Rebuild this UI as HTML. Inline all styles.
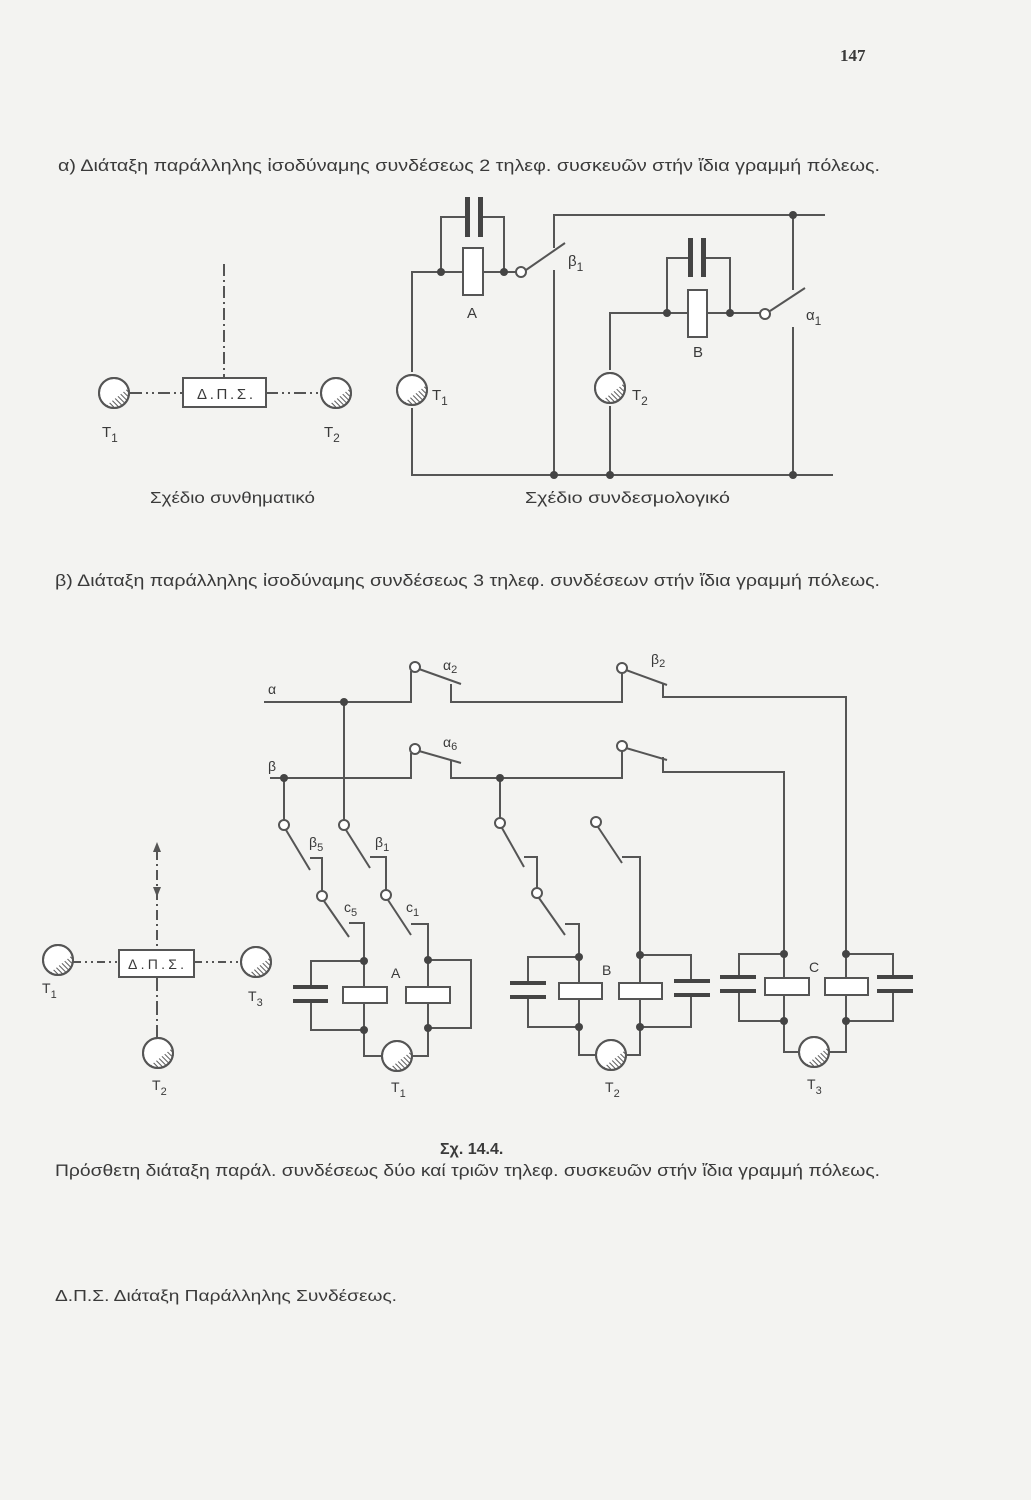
<!DOCTYPE html>
<html><head><meta charset="utf-8"><style>
html,body{margin:0;padding:0;background:#f3f3f1;}
svg{display:block;}
text{font-family:"Liberation Sans","DejaVu Sans",sans-serif;fill:#3a3a3a;}
</style></head><body>
<svg width="1031" height="1500" viewBox="0 0 1031 1500" xmlns="http://www.w3.org/2000/svg">
<defs>
<pattern id="h" width="3.5" height="3.5" patternUnits="userSpaceOnUse" patternTransform="rotate(-45)">
<line x1="0" y1="0" x2="0" y2="3.5" stroke="#333" stroke-width="1.6"/>
</pattern>
<g id="ph">
<circle r="15" fill="#fff" stroke="#555" stroke-width="2"/>
<path d="M-8,12.7 L14.2,-4.8 A15,15 0 0 1 -8,12.7 Z" fill="url(#h)"/>
<circle r="15" fill="none" stroke="#555" stroke-width="2"/>
</g>
</defs>

<text x="840" y="61" font-weight="bold" font-size="17" style="font-family:'Liberation Serif',serif">147</text>

<text x="58" y="171" font-size="17" textLength="822" lengthAdjust="spacingAndGlyphs">α) Διάταξη παράλληλης ἰσοδύναμης συνδέσεως 2 τηλεφ. συσκευῶν στήν ἴδια γραμμή πόλεως.</text>

<!-- left schematic top -->
<g stroke="#555" stroke-width="2" fill="none">
<line x1="224" y1="264" x2="224" y2="378" stroke-dasharray="12,4,2,4"/>
<line x1="130" y1="393" x2="183" y2="393" stroke-dasharray="12,4,2,4,2,4"/>
<line x1="266" y1="393" x2="320" y2="393" stroke-dasharray="12,4,2,4,2,4"/>
<rect x="183" y="378" width="83" height="29" fill="#fff"/>
</g>
<text x="197" y="399" font-size="15" textLength="56" lengthAdjust="spacing">Δ.Π.Σ.</text>
<use href="#ph" x="114" y="393"/>
<use href="#ph" x="336" y="393"/>
<text x="102" y="437" font-size="15">T<tspan font-size="12" dy="5">1</tspan></text>
<text x="324" y="437" font-size="15">T<tspan font-size="12" dy="5">2</tspan></text>
<text x="150" y="503" font-size="16" textLength="165" lengthAdjust="spacingAndGlyphs">Σχέδιο συνθηματικό</text>

<!-- top circuit -->
<g stroke="#555" stroke-width="2" fill="none">
<path d="M412,372 V272 H463 M483,272 H516 M441,272 V217 H465 M482,217 H504 V272"/>
<path d="M526,270 L565,243"/>
<path d="M554,248 V215 H825 M554,270 V475 M412,408 V475 H833"/>
<path d="M793,215 V290 M793,327 V475 M770,311 L805,288"/>
<path d="M610,370 V313 H688 M707,313 H760 M667,313 V258 H688 M705,258 H730 V313 M610,406 V475"/>
<rect x="463" y="248" width="20" height="47" fill="#fff"/>
<rect x="688" y="290" width="19" height="47" fill="#fff"/>
<circle cx="521" cy="272" r="5" fill="#fff"/>
<circle cx="765" cy="314" r="5" fill="#fff"/>
</g>
<g fill="#444">
<rect x="465" y="197" width="5" height="40"/><rect x="478" y="197" width="5" height="40"/>
<rect x="688" y="238" width="5" height="39"/><rect x="701" y="238" width="5" height="39"/>
<circle cx="441" cy="272" r="4"/><circle cx="504" cy="272" r="4"/>
<circle cx="667" cy="313" r="4"/><circle cx="730" cy="313" r="4"/>
<circle cx="554" cy="475" r="4"/><circle cx="610" cy="475" r="4"/>
<circle cx="793" cy="475" r="4"/><circle cx="793" cy="215" r="4"/>
</g>
<use href="#ph" x="412" y="390"/>
<use href="#ph" x="610" y="388"/>
<text x="467" y="318" font-size="15">A</text>
<text x="693" y="357" font-size="15">B</text>
<text x="432" y="400" font-size="15">T<tspan font-size="12" dy="5">1</tspan></text>
<text x="632" y="400" font-size="15">T<tspan font-size="12" dy="5">2</tspan></text>
<text x="568" y="266" font-size="15">β<tspan font-size="12" dy="5">1</tspan></text>
<text x="806" y="320" font-size="15">α<tspan font-size="12" dy="5">1</tspan></text>
<text x="525" y="503" font-size="16" textLength="205" lengthAdjust="spacingAndGlyphs">Σχέδιο συνδεσμολογικό</text>

<text x="55" y="586" font-size="17" textLength="825" lengthAdjust="spacingAndGlyphs">β) Διάταξη παράλληλης ἰσοδύναμης συνδέσεως 3 τηλεφ. συνδέσεων στήν ἴδια γραμμή πόλεως.</text>

<!-- left schematic bottom -->
<g stroke="#555" stroke-width="2" fill="none">
<line x1="157" y1="850" x2="157" y2="950" stroke-dasharray="10,4,2,4"/>
<line x1="157" y1="977" x2="157" y2="1038" stroke-dasharray="14,4,2,4"/>
<line x1="73" y1="962" x2="119" y2="962" stroke-dasharray="8,4,2,4,2,4"/>
<line x1="194" y1="962" x2="241" y2="962" stroke-dasharray="8,4,2,4,2,4"/>
<rect x="119" y="950" width="75" height="27" fill="#fff"/>
</g>
<path d="M157,842 L153,852 L161,852 Z M157,897 L153,887 L161,887 Z" fill="#555"/>
<text x="128" y="969" font-size="14" textLength="56" lengthAdjust="spacing">Δ.Π.Σ.</text>
<use href="#ph" x="58" y="960"/>
<use href="#ph" x="256" y="962"/>
<use href="#ph" x="158" y="1053"/>
<text x="42" y="993" font-size="14">T<tspan font-size="11" dy="5">1</tspan></text>
<text x="248" y="1001" font-size="14">T<tspan font-size="11" dy="5">3</tspan></text>
<text x="152" y="1090" font-size="14">T<tspan font-size="11" dy="5">2</tspan></text>

<!-- bottom circuit -->
<g stroke="#555" stroke-width="2" fill="none">
<path d="M264,702 H411 V671 M419,669 L461,684 M451,684 V702 H622 V673 M626,670 L667,685 M663,683 V697 H846 V978"/>
<path d="M270,778 H411 V753 M419,751 L461,763 M451,760 V778 H622 V750 M626,748 L667,760 M663,757 V772 H784 V978"/>
<path d="M344,702 V820 M346,830 L370,868 M370,857 H386 V890 M388,900 L411,935 M411,924 H428 V987"/>
<path d="M284,778 V820 M286,830 L310,870 M310,858 H322 V891 M324,901 L349,937 M349,923 H364 V987"/>
<path d="M500,778 V818 M502,828 L524,867 M524,857 H537 V888 M539,898 L565,935 M565,924 H579 V983"/>
<path d="M598,827 L622,863 M622,857 H640 V983"/>
<path d="M364,1003 V1056 H382 M364,961 H311 V988 M311,1001 V1030 H364 M428,1003 V1056 H412 M428,960 H471 V1028 H428"/>
<path d="M579,999 V1055 H596 M579,957 H528 V984 M528,998 V1027 H579 M640,999 V1055 H626 M640,955 H691 V982 M691,996 V1027 H640"/>
<path d="M784,995 V1052 H799 M784,954 H739 V978 M739,992 V1021 H784 M846,995 V1052 H829 M846,954 H893 V978 M893,992 V1021 H846"/>
<rect x="343" y="987" width="44" height="16" fill="#fff"/>
<rect x="406" y="987" width="44" height="16" fill="#fff"/>
<rect x="559" y="983" width="43" height="16" fill="#fff"/>
<rect x="619" y="983" width="43" height="16" fill="#fff"/>
<rect x="765" y="978" width="44" height="17" fill="#fff"/>
<rect x="825" y="978" width="43" height="17" fill="#fff"/>
<circle cx="415" cy="667" r="5" fill="#fff"/>
<circle cx="622" cy="668" r="5" fill="#fff"/>
<circle cx="415" cy="749" r="5" fill="#fff"/>
<circle cx="622" cy="746" r="5" fill="#fff"/>
<circle cx="344" cy="825" r="5" fill="#fff"/>
<circle cx="284" cy="825" r="5" fill="#fff"/>
<circle cx="386" cy="895" r="5" fill="#fff"/>
<circle cx="322" cy="896" r="5" fill="#fff"/>
<circle cx="500" cy="823" r="5" fill="#fff"/>
<circle cx="537" cy="893" r="5" fill="#fff"/>
<circle cx="596" cy="822" r="5" fill="#fff"/>
</g>
<g fill="#444">
<rect x="293" y="985" width="35" height="4"/><rect x="293" y="999" width="35" height="4"/>
<rect x="510" y="981" width="36" height="4"/><rect x="510" y="995" width="36" height="4"/>
<rect x="674" y="979" width="36" height="4"/><rect x="674" y="993" width="36" height="4"/>
<rect x="720" y="975" width="36" height="4"/><rect x="720" y="989" width="36" height="4"/>
<rect x="877" y="975" width="36" height="4"/><rect x="877" y="989" width="36" height="4"/>
<circle cx="344" cy="702" r="4"/><circle cx="284" cy="778" r="4"/><circle cx="500" cy="778" r="4"/>
<circle cx="364" cy="961" r="4"/><circle cx="428" cy="960" r="4"/><circle cx="364" cy="1030" r="4"/><circle cx="428" cy="1028" r="4"/>
<circle cx="579" cy="957" r="4"/><circle cx="640" cy="955" r="4"/><circle cx="579" cy="1027" r="4"/><circle cx="640" cy="1027" r="4"/>
<circle cx="784" cy="954" r="4"/><circle cx="846" cy="954" r="4"/><circle cx="784" cy="1021" r="4"/><circle cx="846" cy="1021" r="4"/>
</g>
<use href="#ph" x="397" y="1056"/>
<use href="#ph" x="611" y="1055"/>
<use href="#ph" x="814" y="1052"/>
<g font-size="14">
<text x="268" y="694">α</text>
<text x="268" y="771">β</text>
<text x="443" y="670">α<tspan font-size="11" dy="3">2</tspan></text>
<text x="651" y="664">β<tspan font-size="11" dy="3">2</tspan></text>
<text x="443" y="747">α<tspan font-size="11" dy="3">6</tspan></text>
<text x="309" y="847">β<tspan font-size="11" dy="4">5</tspan></text>
<text x="375" y="847">β<tspan font-size="11" dy="4">1</tspan></text>
<text x="344" y="912">c<tspan font-size="11" dy="4">5</tspan></text>
<text x="406" y="912">c<tspan font-size="11" dy="4">1</tspan></text>
<text x="391" y="978">A</text>
<text x="602" y="975">B</text>
<text x="809" y="972">C</text>
<text x="391" y="1092">T<tspan font-size="11" dy="5">1</tspan></text>
<text x="605" y="1092">T<tspan font-size="11" dy="5">2</tspan></text>
<text x="807" y="1089">T<tspan font-size="11" dy="5">3</tspan></text>
</g>

<text x="440" y="1154" font-size="16" font-weight="bold">Σχ. 14.4.</text>
<text x="55" y="1176" font-size="17" textLength="825" lengthAdjust="spacingAndGlyphs">Πρόσθετη διάταξη παράλ. συνδέσεως δύο καί τριῶν τηλεφ. συσκευῶν στήν ἴδια γραμμή πόλεως.</text>
<text x="55" y="1301" font-size="16" textLength="342" lengthAdjust="spacingAndGlyphs">Δ.Π.Σ. Διάταξη Παράλληλης Συνδέσεως.</text>
</svg>
</body></html>
